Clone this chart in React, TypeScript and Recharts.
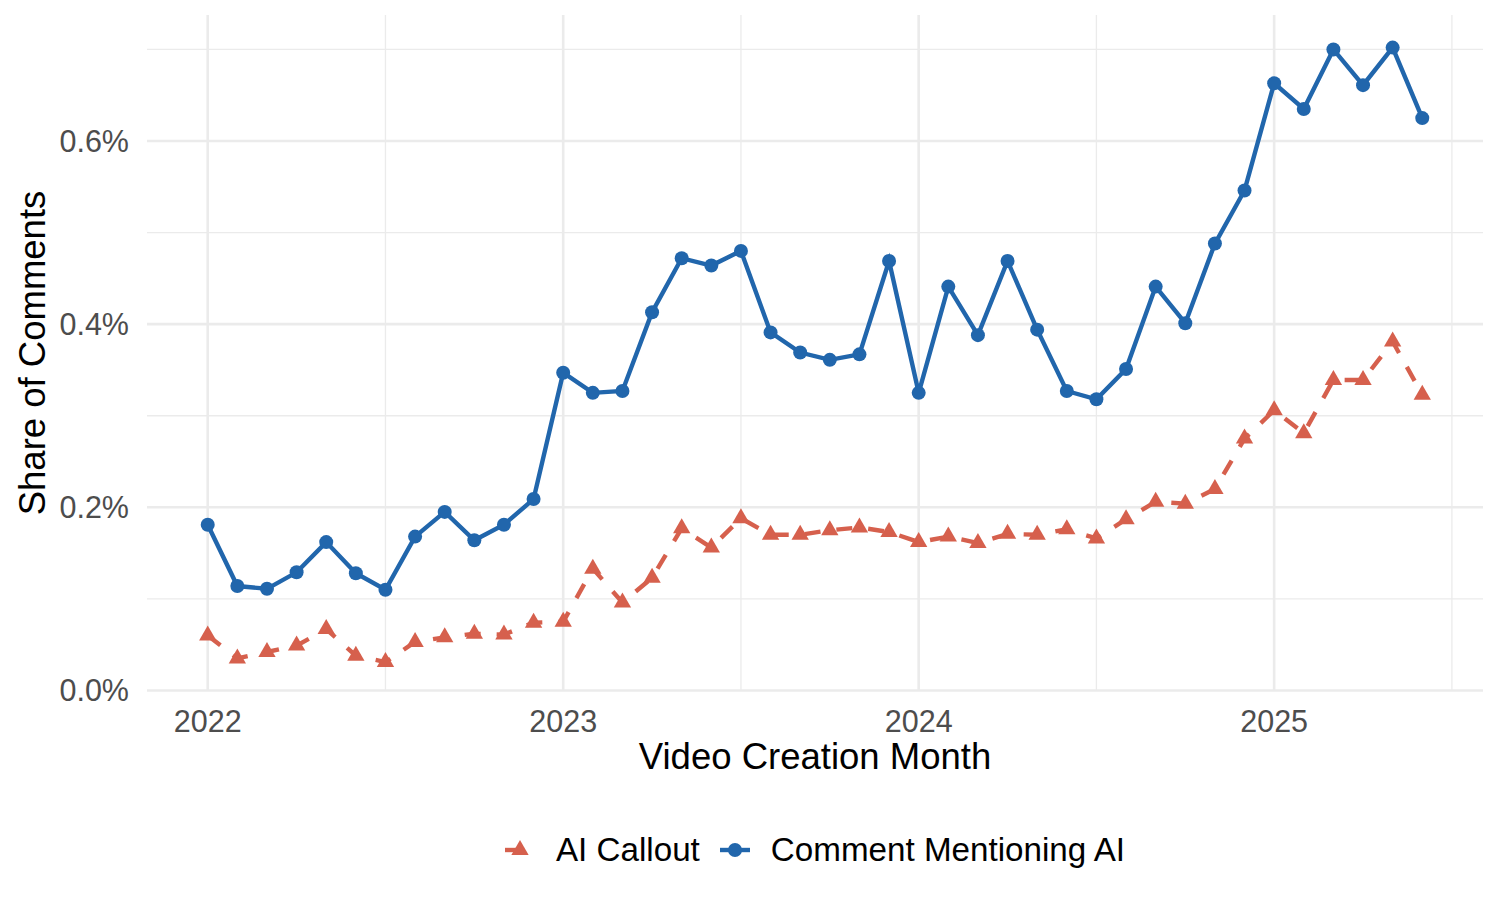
import React from 'react';
import { LineChart, Line, XAxis, YAxis, ReferenceLine, Legend } from 'recharts';

// monthly share of comments (%), Jan 2022 .. Jun 2025
const MONTHS = [
  '2022-01', '2022-02', '2022-03', '2022-04', '2022-05', '2022-06',
  '2022-07', '2022-08', '2022-09', '2022-10', '2022-11', '2022-12',
  '2023-01', '2023-02', '2023-03', '2023-04', '2023-05', '2023-06',
  '2023-07', '2023-08', '2023-09', '2023-10', '2023-11', '2023-12',
  '2024-01', '2024-02', '2024-03', '2024-04', '2024-05', '2024-06',
  '2024-07', '2024-08', '2024-09', '2024-10', '2024-11', '2024-12',
  '2025-01', '2025-02', '2025-03', '2025-04', '2025-05', '2025-06',
];

const AI_CALLOUT = [
  0.060, 0.035, 0.042, 0.049, 0.067, 0.038, 0.031, 0.053, 0.058, 0.062, 0.061, 0.074,
  0.075, 0.133, 0.096, 0.123, 0.177, 0.156, 0.188, 0.170, 0.170, 0.175, 0.178, 0.173,
  0.162, 0.168, 0.161, 0.171, 0.170, 0.176, 0.166, 0.187, 0.206, 0.204, 0.220, 0.275,
  0.306, 0.281, 0.339, 0.339, 0.381, 0.323,
];

const MENTIONING_AI = [
  0.181, 0.114, 0.111, 0.129, 0.162, 0.128, 0.110, 0.168, 0.195, 0.164, 0.181, 0.209,
  0.347, 0.325, 0.327, 0.413, 0.472, 0.464, 0.480, 0.391, 0.369, 0.361, 0.367, 0.469,
  0.325, 0.441, 0.388, 0.469, 0.394, 0.327, 0.318, 0.351, 0.441, 0.401, 0.488, 0.546,
  0.663, 0.635, 0.700, 0.661, 0.702, 0.625,
];

const YEAR_TICKS = [0, 12, 24, 36];
const YEAR_LABELS = ['2022', '2023', '2024', '2025'];
const HALF_YEAR_TICKS = [6, 18, 30, 42];
const Y_TICKS = [0, 0.2, 0.4, 0.6];
const Y_MINOR_TICKS = [0.1, 0.3, 0.5, 0.7];

const FONT = '"Liberation Sans", Arial, Helvetica, sans-serif';
const GRID = '#EBEBEB';
const RED = '#D6604D';
const BLUE = '#2166AC';
const LINE_W = 4.4;

const SERIES = [
  { key: 'callout', name: 'AI Callout', color: RED, dashed: true, shape: 'triangle' },
  { key: 'mention', name: 'Comment Mentioning AI', color: BLUE, dashed: false, shape: 'circle' },
];

const data = MONTHS.map((month, i) => ({
  m: i,
  month,
  callout: AI_CALLOUT[i],
  mention: MENTIONING_AI[i],
}));

// R's pch 17: centroid sits on the data point
const trianglePath = (cx: number, cy: number, r = 10) => {
  const hw = r * 0.866;
  return `M${cx},${cy - r}L${cx + hw},${cy + r / 2}L${cx - hw},${cy + r / 2}Z`;
};

const TriangleDot = (props: any) => {
  const { cx, cy, index } = props;
  if (cx == null || cy == null) return <g key={`t-${index}`} />;
  return <path key={`t-${index}`} d={trianglePath(cx, cy)} fill={RED} />;
};

const CircleDot = (props: any) => {
  const { cx, cy, index } = props;
  if (cx == null || cy == null) return <g key={`c-${index}`} />;
  return <circle key={`c-${index}`} cx={cx} cy={cy} r={7} fill={BLUE} />;
};

const XTick = ({ x, y, payload }: any) => {
  const idx = YEAR_TICKS.indexOf(payload.value);
  return (
    <text x={x} y={y + 41} textAnchor="middle" fontSize={30.5} fill="#4D4D4D" fontFamily={FONT}>
      {YEAR_LABELS[idx]}
    </text>
  );
};

const YTick = ({ x, y, payload }: any) => (
  <text x={x} y={y + 11} textAnchor="end" fontSize={30.5} fill="#4D4D4D" fontFamily={FONT}>
    {`${payload.value.toFixed(1)}%`}
  </text>
);

const LegendKey = ({ s }: { s: (typeof SERIES)[number] }) => (
  <svg width={30} height={30} style={{ display: 'block' }}>
    <line
      x1={0}
      x2={30}
      y1={15}
      y2={15}
      stroke={s.color}
      strokeWidth={LINE_W}
      strokeDasharray={s.dashed ? '16 16' : undefined}
    />
    {s.shape === 'triangle' ? (
      <path d={trianglePath(15, 15)} fill={s.color} />
    ) : (
      <circle cx={15} cy={15} r={7} fill={s.color} />
    )}
  </svg>
);

const renderLegend = () => (
  <div style={{ display: 'flex', justifyContent: 'center', alignItems: 'center', fontFamily: FONT }}>
    {SERIES.map((s, i) => (
      <div
        key={s.key}
        style={{ display: 'flex', alignItems: 'center', marginLeft: i === 0 ? 0 : 20 }}
      >
        <LegendKey s={s} />
        <span style={{ marginLeft: 21, fontSize: 33.2, color: '#000', lineHeight: '40px' }}>{s.name}</span>
      </div>
    ))}
  </div>
);

export default function App() {
  return (
    <div style={{ position: 'absolute', left: 0, top: 0, width: 1500, height: 900, background: '#fff' }}>
      <LineChart
        width={1500}
        height={900}
        data={data}
        margin={{ top: 15, right: 17, bottom: 149, left: 0 }}
      >
        {HALF_YEAR_TICKS.map((v) => (
          <ReferenceLine key={`vx-${v}`} x={v} stroke={GRID} strokeWidth={1.3} />
        ))}
        {Y_MINOR_TICKS.map((v) => (
          <ReferenceLine key={`hy-${v}`} y={v} stroke={GRID} strokeWidth={1.3} />
        ))}
        {YEAR_TICKS.map((v) => (
          <ReferenceLine key={`vX-${v}`} x={v} stroke={GRID} strokeWidth={2.6} />
        ))}
        {Y_TICKS.map((v) => (
          <ReferenceLine key={`hY-${v}`} y={v} stroke={GRID} strokeWidth={2.6} />
        ))}
        <XAxis
          type="number"
          dataKey="m"
          domain={[-2.05, 43.05]}
          ticks={YEAR_TICKS}
          allowDataOverflow
          height={60}
          axisLine={false}
          tickLine={false}
          tickSize={0}
          tickMargin={0}
          tick={<XTick />}
          label={(p: any) => {
            const vb = p.viewBox || { x: 147, width: 1336 };
            return (
              <text x={vb.x + vb.width / 2} y={769} textAnchor="middle" fontSize={36.5} fill="#000" fontFamily={FONT}>
                Video Creation Month
              </text>
            );
          }}
        />
        <YAxis
          type="number"
          domain={[-0.0006, 0.7376]}
          ticks={Y_TICKS}
          allowDataOverflow
          width={147}
          axisLine={false}
          tickLine={false}
          tickSize={0}
          tickMargin={18}
          tick={<YTick />}
          label={() => (
            <text
              x={45}
              y={353}
              transform="rotate(-90, 45, 353)"
              textAnchor="middle"
              fontSize={36.5}
              fill="#000"
              fontFamily={FONT}
            >
              Share of Comments
            </text>
          )}
        />
        <Legend
          layout="horizontal"
          verticalAlign="middle"
          align="center"
          content={renderLegend}
          wrapperStyle={{ top: 830, left: 147, width: 1336, height: 40 }}
        />
        <Line
          dataKey="callout"
          name="AI Callout"
          stroke={RED}
          strokeWidth={LINE_W}
          strokeDasharray="16 16"
          type="linear"
          dot={TriangleDot}
          activeDot={false}
          isAnimationActive={false}
        />
        <Line
          dataKey="mention"
          name="Comment Mentioning AI"
          stroke={BLUE}
          strokeWidth={LINE_W}
          type="linear"
          dot={CircleDot}
          activeDot={false}
          isAnimationActive={false}
        />
      </LineChart>
    </div>
  );
}
